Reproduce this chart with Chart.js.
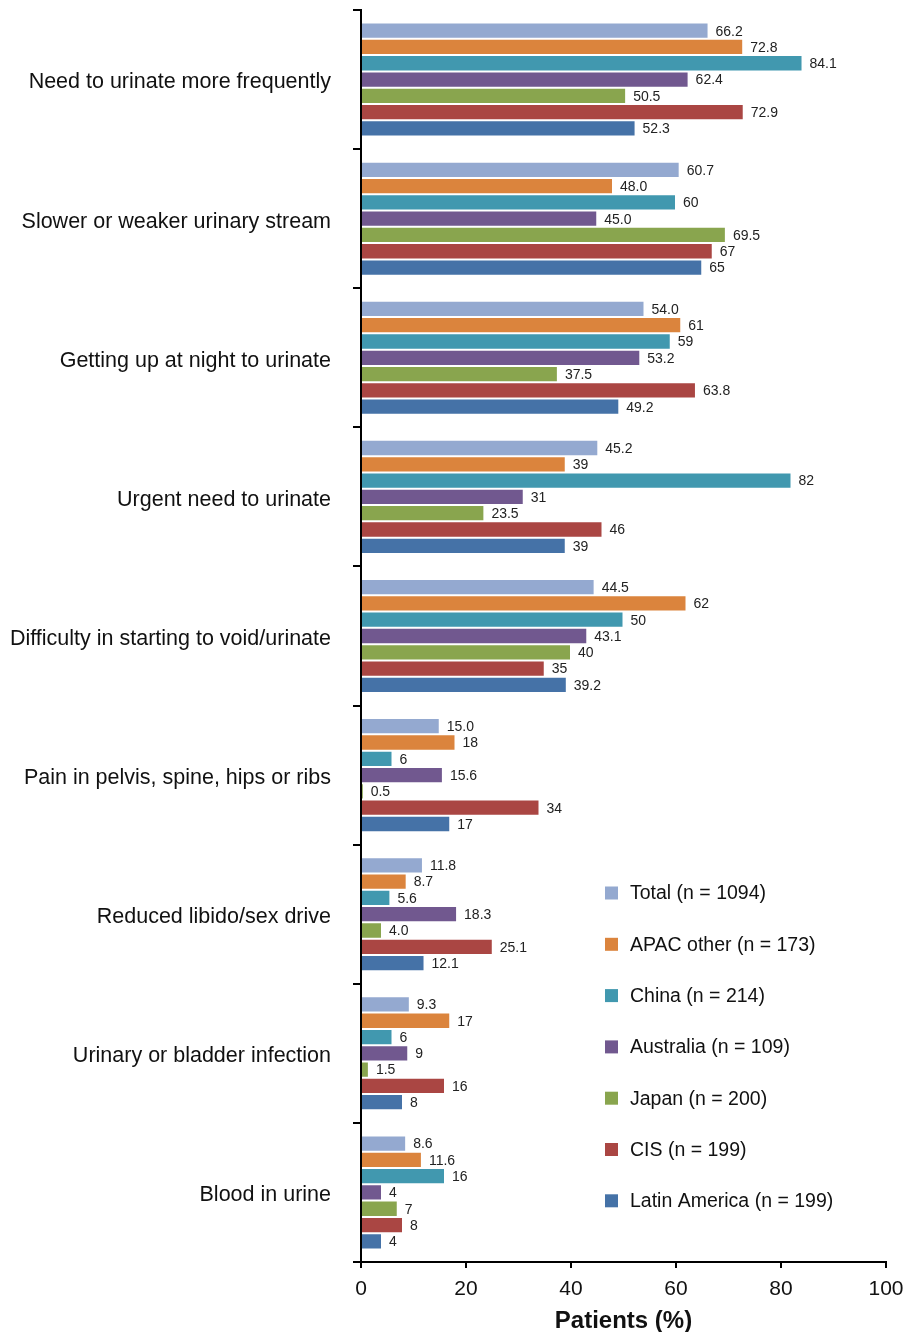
<!DOCTYPE html>
<html>
<head>
<meta charset="utf-8">
<script src="https://cdn.jsdelivr.net/npm/chart.js@4.4.1/dist/chart.umd.min.js"></script>
<style>
  html, body { margin: 0; padding: 0; background: #fff; }
  #wrap { width: 905px; height: 1332px; }
</style>
</head>
<body>
<div id="wrap"><canvas id="symptomChart" width="905" height="1332"></canvas></div>
<script>
const symptoms = [
    "Need to urinate more frequently",
    "Slower or weaker urinary stream",
    "Getting up at night to urinate",
    "Urgent need to urinate",
    "Difficulty in starting to void/urinate",
    "Pain in pelvis, spine, hips or ribs",
    "Reduced libido/sex drive",
    "Urinary or bladder infection",
    "Blood in urine"
];

const regions = [
    "Total (n = 1094)",
    "APAC other (n = 173)",
    "China (n = 214)",
    "Australia (n = 109)",
    "Japan (n = 200)",
    "CIS (n = 199)",
    "Latin America (n = 199)"
];

// values kept as printed, so "48.0" keeps its trailing zero on the label
const totalPct     = ["66.2","60.7","54.0","45.2","44.5","15.0","11.8","9.3","8.6"];
const apacPct      = ["72.8","48.0","61","39","62","18","8.7","17","11.6"];
const chinaPct     = ["84.1","60","59","82","50","6","5.6","6","16"];
const australiaPct = ["62.4","45.0","53.2","31","43.1","15.6","18.3","9","4"];
const japanPct     = ["50.5","69.5","37.5","23.5","40","0.5","4.0","1.5","7"];
const cisPct       = ["72.9","67","63.8","46","35","34","25.1","16","8"];
const latamPct     = ["52.3","65","49.2","39","39.2","17","12.1","8","4"];

const xTicks = [0, 20, 40, 60, 80, 100];

const seriesValues = [totalPct, apacPct, chinaPct, australiaPct, japanPct, cisPct, latamPct];
const colors = ["#94a9d0", "#db843d", "#4198af", "#71588f", "#89a54e", "#aa4643", "#4572a7"];

const FONT = '"Liberation Sans", Arial, sans-serif';

// number printed just past the end of every bar
const valueLabels = {
    id: "valueLabels",
    afterDatasetsDraw(chart) {
        const ctx = chart.ctx;
        ctx.save();
        ctx.font = "14px " + FONT;
        ctx.fillStyle = "#222";
        ctx.textBaseline = "middle";
        ctx.textAlign = "left";
        chart.data.datasets.forEach((ds, i) => {
            chart.getDatasetMeta(i).data.forEach((bar, j) => {
                ctx.fillText(seriesValues[i][j], bar.x + 7, bar.y + 1);
            });
        });
        ctx.restore();
    }
};

// legend sits inside the plot, lower right
const innerLegend = {
    id: "innerLegend",
    afterDraw(chart) {
        const ctx = chart.ctx;
        const area = chart.chartArea;
        const x0 = area.left + 244;
        const y0 = 893;
        const rowGap = 51.3;
        ctx.save();
        ctx.font = "19.5px " + FONT;
        ctx.textBaseline = "middle";
        ctx.textAlign = "left";
        chart.data.datasets.forEach((ds, i) => {
            const y = y0 + i * rowGap;
            ctx.fillStyle = ds.backgroundColor;
            ctx.fillRect(x0, y - 6.5, 13, 13);
            ctx.fillStyle = "#111";
            ctx.fillText(ds.label, x0 + 25, y + 1);
        });
        ctx.restore();
    }
};

new Chart(document.getElementById("symptomChart"), {
    type: "bar",
    data: {
        labels: symptoms,
        datasets: regions.map((name, i) => ({
            label: name,
            data: seriesValues[i].map(Number),
            backgroundColor: colors[i],
            borderColor: "rgba(255,255,255,0.45)",
            borderWidth: 1,
            categoryPercentage: 0.82,
            barPercentage: 1.0
        }))
    },
    options: {
        indexAxis: "y",
        responsive: false,
        animation: false,
        devicePixelRatio: 1,
        layout: { padding: { top: 10, right: 19, bottom: 0, left: 0 } },
        plugins: {
            legend: { display: false },
            tooltip: { enabled: false }
        },
        scales: {
            x: {
                min: 0,
                max: 100,
                afterBuildTicks(scale) {
                    scale.ticks = xTicks.map(v => ({ value: v }));
                },
                afterFit(scale) {
                    scale.height = 70;
                    scale.paddingLeft = 0;
                    scale.paddingRight = 0;
                },
                border: { color: "#000", width: 2 },
                grid: {
                    drawOnChartArea: false,
                    drawTicks: true,
                    tickLength: 6,
                    color: "#000",
                    lineWidth: 2
                },
                ticks: {
                    color: "#111",
                    padding: 9,
                    font: { family: FONT, size: 21 }
                },
                title: {
                    display: true,
                    text: "Patients (%)",
                    color: "#111",
                    padding: { top: 0, bottom: -4 },
                    font: { family: FONT, size: 24, weight: "bold" }
                }
            },
            y: {
                afterFit(scale) {
                    scale.width = 361;
                    scale.paddingTop = 0;
                    scale.paddingBottom = 0;
                },
                border: { color: "#000", width: 2 },
                grid: {
                    offset: true,
                    drawOnChartArea: false,
                    drawTicks: true,
                    tickLength: 8,
                    color: "#000",
                    lineWidth: 2
                },
                ticks: {
                    color: "#111",
                    padding: 22,
                    labelOffset: 3,
                    font: { family: FONT, size: 21.5 }
                }
            }
        }
    },
    plugins: [valueLabels, innerLegend]
});
</script>
</body>
</html>
